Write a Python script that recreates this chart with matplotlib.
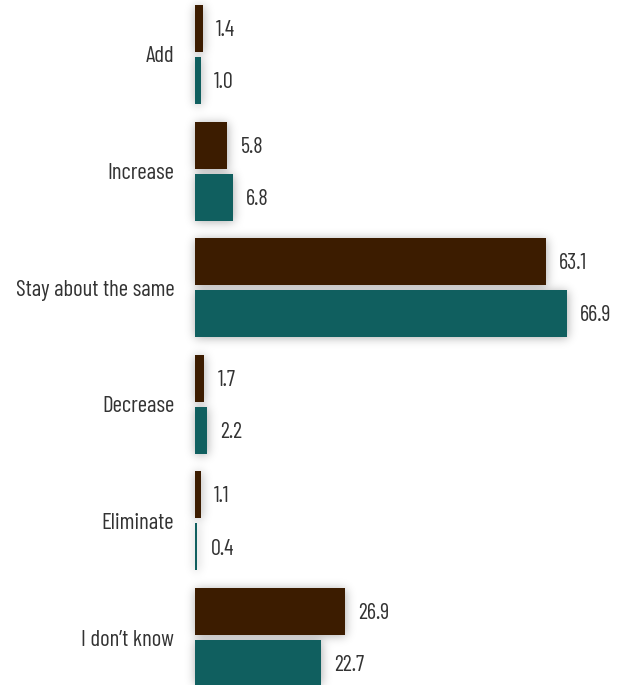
import matplotlib
matplotlib.use('Agg')
import matplotlib.pyplot as plt
import numpy as np

categories = ['Add', 'Increase', 'Stay about the same', 'Decrease', 'Eliminate', "I don\u2019t know"]
series_a = [1.4, 5.8, 63.1, 1.7, 1.1, 26.9]
series_b = [1.0, 6.8, 66.9, 2.2, 0.4, 22.7]

color_a = '#3c1c00'
color_b = '#105f5f'
text_color = '#333333'

plt.rcParams['font.family'] = ['Barlow Condensed', 'DejaVu Sans']

W, H = 628, 685
fig = plt.figure(figsize=(W / 100, H / 100), dpi=100)
ax = fig.add_axes([195 / W, 0, 433 / W, 1])
ax.set_zorder(2)

bar_h = 0.403
off = 0.223
y = np.arange(len(categories))

ax.set_xlim(0, 433 / 5.56)
ax.set_ylim(5.407, -0.467)

bars = []
for i in y:
    for val, yc, col in ((series_a[i], i - off, color_a), (series_b[i], i + off, color_b)):
        ax.barh(yc, val, height=bar_h, color=col, zorder=3)
        ax.annotate('%.1f' % val, (val, yc), xytext=(9.5, -1.5), textcoords='offset points',
                    va='center', ha='left', fontsize=16, color=text_color)
        bars.append((val, yc))

# soft drop shadow: rasterise the bar footprints, blur, put behind the axes
mask = np.zeros((H, W))
for val, yc in bars:
    (x0, y0), (x1, y1) = ax.transData.transform([(0, yc - bar_h / 2), (val, yc + bar_h / 2)])
    r0, r1 = int(round(H - max(y0, y1))), int(round(H - min(y0, y1)))
    mask[r0 + 1:r1 + 1, int(round(x0)):int(round(x1)) + 1] = 1.0

sigma = 5.0
k = np.arange(-16, 17)
kern = np.exp(-k ** 2 / (2 * sigma ** 2))
kern /= kern.sum()
blur = np.apply_along_axis(lambda r: np.convolve(r, kern, mode='same'), 1, mask)
blur = np.apply_along_axis(lambda c: np.convolve(c, kern, mode='same'), 0, blur)

shadow = np.zeros((H, W, 4))
shadow[..., 3] = blur * 0.32
fig.figimage(shadow, xo=0, yo=0, origin='upper', zorder=0)

ax.set_yticks(y)
ax.set_yticklabels(categories, fontsize=16.5, color=text_color)
ax.tick_params(axis='y', length=0, pad=15)
ax.set_xticks([])
for s in ax.spines.values():
    s.set_visible(False)
ax.patch.set_alpha(0)

fig.savefig('out.png', dpi=100)
